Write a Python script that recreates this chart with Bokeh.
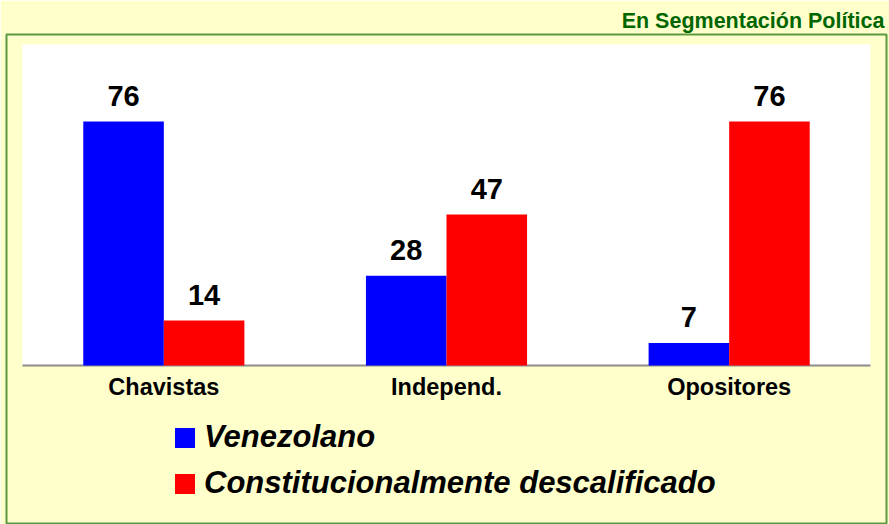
from bokeh.plotting import figure
from bokeh.models import (ColumnDataSource, FactorRange, Range1d, LabelSet,
                          BoxAnnotation, Legend, LegendItem)
from bokeh.core.properties import value
from bokeh.transform import dodge
from bokeh.embed import file_html
from bokeh.resources import INLINE

categories = ["Chavistas", "Independ.", "Opositores"]
series_names = ["Venezolano", "Constitucionalmente descalificado"]
venezolano = [76, 28, 7]
descalificado = [14, 47, 76]
title_text = "En Segmentación Política"

FONT = "Liberation Sans"
BG = "#FFFFCC"

src = ColumnDataSource(dict(
    cat=categories,
    base=[0] * len(categories),
    v1=venezolano,
    v2=descalificado,
    t1=[str(v) for v in venezolano],
    t2=[str(v) for v in descalificado],
))

p = figure(width=889, height=524,
           x_range=FactorRange(*categories, range_padding=0.0566, range_padding_units="absolute"),
           y_range=Range1d(-49.2, 103.1), output_backend="svg", toolbar_location=None,
           min_border_left=6, min_border_right=3, min_border_top=34, min_border_bottom=1)
p.background_fill_color = BG
p.border_fill_color = BG
p.outline_line_color = "#5A9A40"
p.outline_line_width = 2
p.grid.visible = False
p.xaxis.visible = False
p.yaxis.visible = False

p.title.text = title_text
p.title.align = "right"
p.title.text_font = FONT
p.title.text_font_size = "21.5px"
p.title.text_font_style = "bold"
p.title.text_color = "#006600"
p.title.standoff = 4
p.title.offset = 2

# white plotting area and category axis line
p.add_layout(BoxAnnotation(left=0, right=len(categories), bottom=0, top=100,
                           fill_color="white", fill_alpha=1, line_color=None, level="underlay"))
p.add_layout(BoxAnnotation(left=0, right=len(categories), bottom=-0.3, top=0.3,
                           fill_color="#8C8C8C", fill_alpha=1, line_color=None, level="underlay"))

bw = 0.285
r1 = p.vbar(x=dodge("cat", -bw / 2, range=p.x_range), top="v1", width=bw, source=src,
            fill_color="#0000FF", line_color=None)
r2 = p.vbar(x=dodge("cat", bw / 2, range=p.x_range), top="v2", width=bw, source=src,
            fill_color="#FF0000", line_color=None)

for col, txt, off in (("v1", "t1", -bw / 2), ("v2", "t2", bw / 2)):
    p.add_layout(LabelSet(x=dodge("cat", off, range=p.x_range), y=col, text=txt, source=src,
                          text_align="center", text_baseline="alphabetic", y_offset=16,
                          text_font=value(FONT), text_font_size=value("29px"),
                          text_font_style=value("bold"), text_color=value("black")))

# category labels
p.text(x="cat", y="base", text="cat", source=src, y_offset=21,
       text_align="center", text_baseline="alphabetic", text_font=value(FONT),
       text_font_size=value("23.5px"), text_font_style="bold", text_color="black")

legend = Legend(items=[LegendItem(label=series_names[0], renderers=[r1]),
                       LegendItem(label=series_names[1], renderers=[r2])],
                location=(166, 22), orientation="vertical",
                padding=0, margin=0, spacing=10,
                glyph_width=25, glyph_height=25, label_height=25, label_standoff=7,
                label_text_font=FONT, label_text_font_size="31px",
                label_text_font_style="bold italic", label_text_color="black",
                background_fill_alpha=0, border_line_color=None)
p.add_layout(legend, "center")

open("out.html", "w").write(file_html(p, INLINE))
